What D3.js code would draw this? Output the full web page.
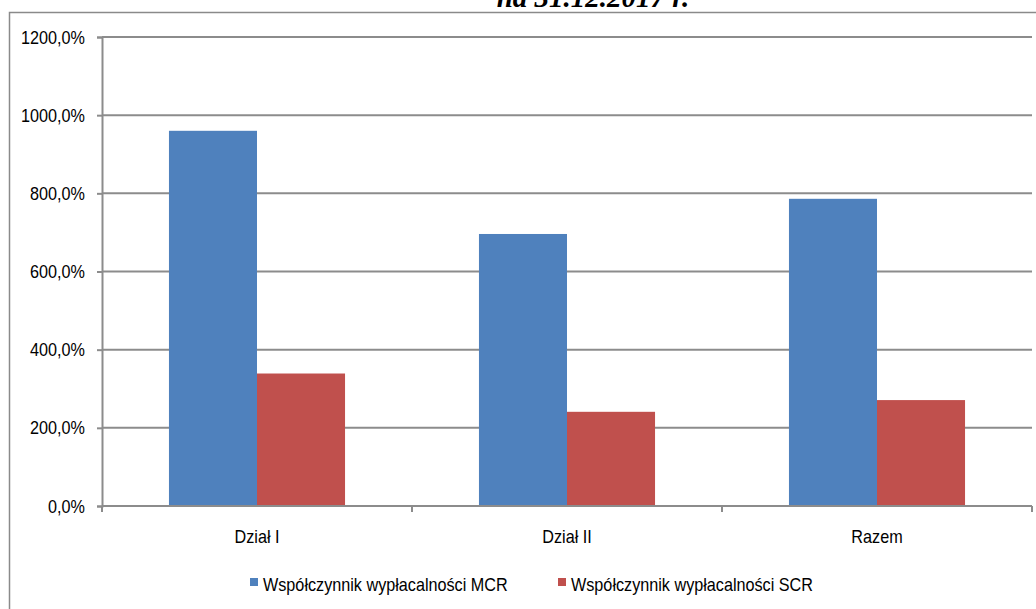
<!DOCTYPE html>
<html>
<head>
<meta charset="utf-8">
<script src="https://cdn.jsdelivr.net/npm/d3@7"></script>
<style>
  body { margin: 0; background: #fff; }
  svg { display: block; }
  .lbl { font-family: "Liberation Sans Narrow", "Arial Narrow", "Liberation Sans", sans-serif; font-size: 18px; fill: #000; }
</style>
</head>
<body>
<div id="chart"></div>
<script>
// chart data
const categories = ["Dział I", "Dział II", "Razem"];
const seriesNames = ["Współczynnik wypłacalności MCR", "Współczynnik wypłacalności SCR"];
const mcrValues = [960, 696, 786];
const scrValues = [339, 241, 271];
const yTicks = [0, 200, 400, 600, 800, 1000, 1200];
const colors = ["#4F81BD", "#C0504D"];

const W = 1036, H = 609;
const plot = { left: 102, right: 1032, top: 37, bottom: 506 };
const gridColor = "#8c8c8c";
const squeeze = 0.9; // narrows the sans font towards Calibri widths

const svg = d3.select("#chart").append("svg")
    .attr("width", W)
    .attr("height", H);

// narrow label placed at (x, y)
function label(sel, x, y, txt, anchor) {
  return sel.append("text")
      .attr("class", "lbl")
      .attr("text-anchor", anchor || "start")
      .attr("transform", `translate(${x},${y}) scale(${squeeze},1)`)
      .text(txt);
}

// outer chart frame (runs off the bottom/right of the picture)
svg.append("rect")
    .attr("x", 9.5).attr("y", 12.5)
    .attr("width", W + 20).attr("height", H + 20)
    .attr("fill", "none")
    .attr("stroke", "#8a8a8a")
    .attr("stroke-width", 1.5);

// title, cut off at the top as in the source
svg.append("text")
    .attr("x", 593).attr("y", 7)
    .attr("text-anchor", "middle")
    .style("font-family", "'Liberation Serif', 'Times New Roman', serif")
    .style("font-weight", "bold")
    .style("font-style", "italic")
    .style("font-size", "29px")
    .text("na 31.12.2017 r.");

// scales
const x0 = d3.scaleBand()
    .domain(categories)
    .range([plot.left, plot.right])
    .paddingInner(0.432)
    .paddingOuter(0.216);

const x1 = d3.scaleBand()
    .domain([0, 1])
    .range([0, x0.bandwidth()]);

const y = d3.scaleLinear()
    .domain([0, 1200])
    .range([plot.bottom, plot.top]);

// gridlines
svg.append("g")
    .selectAll("line")
    .data(yTicks.filter(d => d > 0))
    .enter().append("line")
      .attr("x1", plot.left).attr("x2", plot.right)
      .attr("y1", d => y(d)).attr("y2", d => y(d))
      .attr("stroke", gridColor)
      .attr("stroke-width", 2);

// bars
const rows = categories.map((c, i) => ({ cat: c, vals: [mcrValues[i], scrValues[i]] }));

svg.append("g")
    .selectAll("g")
    .data(rows)
    .enter().append("g")
      .attr("transform", d => `translate(${x0(d.cat)},0)`)
    .selectAll("rect")
    .data(d => d.vals.map((v, k) => ({ v, k })))
    .enter().append("rect")
      .attr("x", d => x1(d.k))
      .attr("y", d => y(d.v))
      .attr("width", x1.bandwidth())
      .attr("height", d => y(0) - y(d.v))
      .attr("fill", d => colors[d.k]);

// y axis
const fmt = d => d3.format(".1f")(d).replace(".", ",") + "%";
const yAxis = svg.append("g")
    .attr("transform", `translate(${plot.left},0)`)
    .call(d3.axisLeft(y).tickValues(yTicks).tickSize(5).tickFormat(""));

yAxis.select(".domain").attr("stroke", gridColor).attr("stroke-width", 2);
yAxis.selectAll(".tick line").attr("stroke", gridColor).attr("stroke-width", 2);
yAxis.selectAll(".tick text").remove();

const yLabels = svg.append("g");
yTicks.forEach(t => label(yLabels, 85, y(t) + 6.5, fmt(t), "end"));

// x axis: ticks on category boundaries
const xAxis = svg.append("g")
    .attr("transform", `translate(0,${plot.bottom})`);

xAxis.append("line")
    .attr("x1", plot.left).attr("x2", plot.right)
    .attr("stroke", gridColor).attr("stroke-width", 2);

const step = x0.step();
xAxis.selectAll(".bt")
    .data(d3.range(categories.length + 1))
    .enter().append("line")
      .attr("class", "bt")
      .attr("x1", i => plot.left + i * step).attr("x2", i => plot.left + i * step)
      .attr("y1", 0).attr("y2", 6)
      .attr("stroke", gridColor).attr("stroke-width", 2);

categories.forEach(c => label(xAxis, x0(c) + x0.bandwidth() / 2, 37, c, "middle"));

// legend
const legendX = [250, 558];
const legend = svg.append("g").attr("transform", "translate(0,578)");

seriesNames.forEach((name, i) => {
  legend.append("rect")
      .attr("x", legendX[i]).attr("y", 0)
      .attr("width", 8).attr("height", 8)
      .attr("fill", colors[i]);
  label(legend, legendX[i] + 13, 13, name, "start");
});
</script>
</body>
</html>
